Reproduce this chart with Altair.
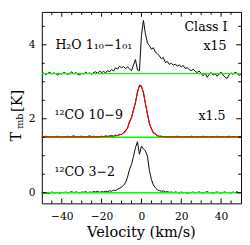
import altair as alt
import pandas as pd

# ---------------- data ----------------
velocity = list(range(-50, 51))  # km/s, 1 km/s channels

h2o = [
    3.20, 3.24, 3.19, 3.23, 3.26, 3.21, 3.24, 3.22, 3.18, 3.22,
    3.21, 3.25, 3.23, 3.20, 3.22, 3.27, 3.21, 3.25, 3.20, 3.19,
    3.23, 3.21, 3.26, 3.22, 3.24, 3.20, 3.25, 3.27, 3.23, 3.29,
    3.25, 3.28, 3.24, 3.30, 3.27, 3.33, 3.29, 3.38, 3.34, 3.42,
    3.38, 3.41, 3.36, 3.40, 3.35, 3.30, 3.45, 3.60, 3.32, 3.30,
    4.25, 4.66, 4.30, 4.05, 3.98, 3.88, 3.92, 3.80, 3.76, 3.70,
    3.62, 3.66, 3.52, 3.55, 3.47, 3.50, 3.45, 3.48, 3.42, 3.46,
    3.40, 3.44, 3.36, 3.38, 3.33, 3.30, 3.34, 3.28, 3.25, 3.29,
    3.22, 3.16, 3.24, 3.12, 3.20, 3.25, 3.18, 3.22, 3.15, 3.21,
    3.26, 3.18, 3.12, 3.09, 3.19, 3.24, 3.20, 3.26, 3.23, 3.17, 3.21,
]

co109 = [
    1.52, 1.50, 1.53, 1.51, 1.49, 1.52, 1.50, 1.51, 1.53, 1.50,
    1.49, 1.52, 1.51, 1.53, 1.50, 1.52, 1.54, 1.51, 1.50, 1.52,
    1.53, 1.51, 1.50, 1.52, 1.54, 1.51, 1.53, 1.50, 1.52, 1.51,
    1.53, 1.51, 1.54, 1.52, 1.53, 1.55, 1.52, 1.56, 1.54, 1.58,
    1.57, 1.63, 1.68, 1.74, 1.93, 2.02, 2.25, 2.43, 2.73, 2.90,
    2.86, 2.72, 2.40, 2.15, 1.86, 1.74, 1.61, 1.59, 1.54, 1.52,
    1.53, 1.50, 1.52, 1.51, 1.49, 1.52, 1.50, 1.51, 1.53, 1.50,
    1.52, 1.49, 1.51, 1.52, 1.50, 1.53, 1.51, 1.49, 1.52, 1.50,
    1.51, 1.53, 1.50, 1.52, 1.49, 1.51, 1.52, 1.50, 1.53, 1.51,
    1.50, 1.52, 1.49, 1.51, 1.53, 1.50, 1.52, 1.51, 1.49, 1.52, 1.51,
]

co109_fit = [
    1.51, 1.51, 1.51, 1.51, 1.51, 1.51, 1.51, 1.51, 1.51, 1.51,
    1.51, 1.51, 1.51, 1.51, 1.51, 1.51, 1.51, 1.51, 1.51, 1.51,
    1.51, 1.51, 1.51, 1.51, 1.51, 1.51, 1.51, 1.51, 1.51, 1.51,
    1.515, 1.52, 1.52, 1.525, 1.53, 1.53, 1.535, 1.54, 1.55, 1.56,
    1.58, 1.61, 1.66, 1.75, 1.90, 2.04, 2.22, 2.45, 2.70, 2.91,
    2.89, 2.70, 2.42, 2.12, 1.88, 1.72, 1.63, 1.58, 1.55, 1.53,
    1.52, 1.515, 1.51, 1.51, 1.51, 1.51, 1.51, 1.51, 1.51, 1.51,
    1.51, 1.51, 1.51, 1.51, 1.51, 1.51, 1.51, 1.51, 1.51, 1.51,
    1.51, 1.51, 1.51, 1.51, 1.51, 1.51, 1.51, 1.51, 1.51, 1.51,
    1.51, 1.51, 1.51, 1.51, 1.51, 1.51, 1.51, 1.51, 1.51, 1.51, 1.51,
]

co32 = [
    0.01, -0.02, 0.00, -0.03, -0.01, 0.02, -0.01, 0.00, 0.01, -0.02,
    0.01, 0.00, 0.02, -0.01, 0.01, 0.03, 0.00, 0.02, 0.01, -0.01,
    0.02, 0.01, 0.03, 0.00, 0.02, 0.01, 0.03, 0.02, 0.04, 0.01,
    0.03, 0.02, 0.04, 0.03, 0.05, 0.04, 0.07, 0.06, 0.09, 0.12,
    0.15, 0.20, 0.27, 0.42, 0.63, 0.76, 0.98, 1.22, 1.38, 1.04,
    1.26, 1.19, 1.13, 0.99, 0.60, 0.36, 0.21, 0.13, 0.08, 0.06,
    0.04, 0.05, 0.02, 0.03, 0.01, 0.02, 0.00, 0.02, 0.01, -0.01,
    0.02, 0.00, 0.01, -0.02, 0.01, 0.00, 0.02, -0.01, 0.01, 0.02,
    0.00, -0.01, 0.01, 0.03, 0.00, 0.01, -0.02, 0.01, 0.02, 0.00,
    -0.01, 0.01, 0.02, 0.00, 0.01, -0.01, 0.02, 0.00, 0.03, -0.01, 0.01,
]

baselines = [3.22, 1.50, 0.0]

x_label_values = [-40, -20, 0, 20, 40]
x_minor_ticks = [-45, -35, -30, -25, -15, -10, -5, 5, 10, 15, 25, 30, 35, 45]
y_label_values = [0, 2, 4]
y_minor_ticks = [0.5, 1.0, 1.5, 2.5, 3.0, 3.5, 4.5]

labels = ["H\u2082O 1\u2081\u2080\u22121\u2080\u2081", "Class I", "x15",
          "\u00b9\u00b2CO 10\u22129", "x1.5", "\u00b9\u00b2CO 3\u22122"]

for arr in (h2o, co109, co109_fit, co32):
    assert len(arr) == len(velocity), len(arr)

# ---------------- chart ----------------
W, H = 206, 198
FONT = "DejaVu Serif"

x_scale = alt.Scale(domain=[-50, 50], nice=False, zero=False)
y_scale = alt.Scale(domain=[-0.288, 4.889], nice=False, zero=False)

rows = []
for name, arr in (("h2o", h2o), ("co109", co109), ("co32", co32)):
    for v, t in zip(velocity, arr):
        rows.append({"v": v, "t": t, "series": name})
df = pd.DataFrame(rows)
fit_df = pd.DataFrame({"v": velocity, "t": co109_fit})

x_axis = alt.Axis(values=x_label_values, ticks=False, tickSize=0, domain=False, grid=False,
                  labelFont=FONT, labelFontSize=11, labelPadding=17,
                  labelBaseline="alphabetic", labelFlush=False, labelColor="black", title=None)
y_axis = alt.Axis(values=y_label_values, ticks=False, tickSize=0, domain=False, grid=False,
                  labelFont=FONT, labelFontSize=11, labelPadding=7, labelFlush=False,
                  labelColor="black", title=None)

spectra = alt.Chart(df).mark_line(color="black", strokeWidth=1, clip=True).encode(
    x=alt.X("v:Q", scale=x_scale, axis=x_axis),
    y=alt.Y("t:Q", scale=y_scale, axis=y_axis),
    detail="series:N",
)

green = alt.Chart(pd.DataFrame({"b": baselines})).mark_rule(
    color="#00ff00", strokeWidth=1.5).encode(y=alt.Y("b:Q", scale=y_scale))

fit = alt.Chart(fit_df).mark_line(color="#ff0000", strokeWidth=1.1, clip=True).encode(
    x=alt.X("v:Q", scale=x_scale), y=alt.Y("t:Q", scale=y_scale))

layers = [spectra, green, fit]

# inward ticks on all four sides
def xticks(vals, length):
    d = pd.DataFrame({"v": vals})
    bot = alt.Chart(d).mark_rule(color="black", strokeWidth=1).encode(
        x=alt.X("v:Q", scale=x_scale), y=alt.value(H), y2=alt.value(H - length))
    top = alt.Chart(d).mark_rule(color="black", strokeWidth=1).encode(
        x=alt.X("v:Q", scale=x_scale), y=alt.value(0), y2=alt.value(length))
    return [bot, top]

def yticks(vals, length):
    d = pd.DataFrame({"b": vals})
    left = alt.Chart(d).mark_rule(color="black", strokeWidth=1).encode(
        y=alt.Y("b:Q", scale=y_scale), x=alt.value(0), x2=alt.value(length))
    right = alt.Chart(d).mark_rule(color="black", strokeWidth=1).encode(
        y=alt.Y("b:Q", scale=y_scale), x=alt.value(W), x2=alt.value(W - length))
    return [left, right]

layers += xticks(x_label_values, 5) + xticks(x_minor_ticks, 3)
layers += yticks(y_label_values, 5) + yticks(y_minor_ticks, 3)

def text(s, x, y, size=13, align="left", baseline="alphabetic", angle=0):
    return alt.Chart(pd.DataFrame({"s": [s]})).mark_text(
        font=FONT, fontSize=size, align=align, baseline=baseline, angle=angle,
        color="black").encode(text="s:N", x=alt.value(x), y=alt.value(y))

layers += [
    text(labels[0], 14, 38.5),
    text(labels[1], 192, 20, align="right"),
    text(labels[2], 191, 39, align="right"),
    text(labels[3], 13, 111),
    text(labels[4], 190, 112, align="right"),
    text(labels[5], 13, 170),
    # axis titles
    text("Velocity (km/s)", W / 2, 233, size=15, align="center"),
    text("T", -27, 129, size=15, align="center", baseline="middle", angle=270),
    text("mb", -22.5, 113, size=10, align="center", baseline="middle", angle=270),
    text("[K]", -26, 92, size=15, align="center", baseline="middle", angle=270),
]

chart = alt.layer(*layers).properties(
    width=W, height=H,
    padding={"left": 35, "top": 0, "right": 1, "bottom": 39},
    autosize=alt.AutoSizeParams(type="none"),
).configure_view(stroke="black", strokeWidth=1)

chart.save("out.html", embed_options={"renderer": "svg", "actions": False})
